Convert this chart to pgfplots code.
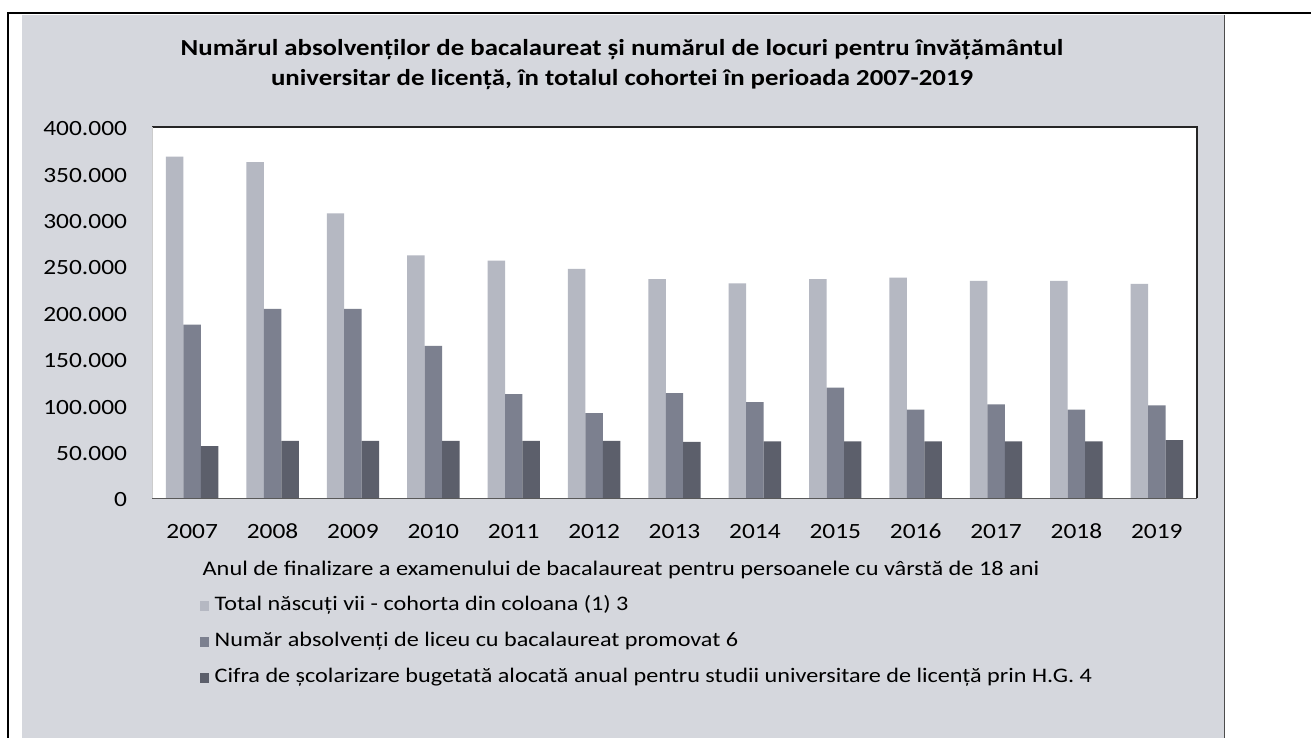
\documentclass[border=0pt]{standalone}
\usepackage{pgfplots}
\pgfplotsset{compat=1.18}
\usepackage{fontspec}
\setmainfont[FakeStretch=1.17]{Carlito}
\definecolor{panel}{HTML}{D5D7DD}
\definecolor{cLight}{HTML}{B5B8C2}
\definecolor{cMid}{HTML}{7C808F}
\definecolor{cDark}{HTML}{5C5F6B}

\begin{document}
\begin{tikzpicture}
\path[use as bounding box] (0,0) rectangle (983.25pt,-553.5pt);
% page background, frame, grey chart area (pixel units)
\begin{scope}[x=0.75pt,y=-0.75pt]
\fill[white] (0,0) rectangle (1311,738);
\fill[panel] (22,15) rectangle (1224,738);
\draw[line width=1.4pt] (8,738) -- (8,13) -- (1311,13);
\draw[gray!60!black, line width=0.5pt] (1224,15) -- (1224,738);
\fill[white] (152,127) rectangle (1197,498);
\node[font=\bfseries\fontsize{17.2}{22.5}\selectfont, align=center] at (622,65)
  {Numărul absolvenților de bacalaureat și numărul de locuri pentru învățământul\\
   universitar de licență, în totalul cohortei în perioada 2007-2019};
\node[font=\fontsize{15.6}{18}\selectfont] at (621,570)
  {Anul de finalizare a examenului de bacalaureat pentru persoanele cu vârstă de 18 ani};
\end{scope}

\begin{axis}[
  at={(114pt,-373.5pt)}, anchor=south west,
  scale only axis, width=783.75pt, height=278.25pt,
  ybar=0pt, bar width=13.1pt,
  xmin=-0.5, xmax=12.5, ymin=0, ymax=400000,
  xtick=data,
  xticklabels={2007,2008,2009,2010,2011,2012,2013,2014,2015,2016,2017,2018,2019},
  ytick={0,50000,...,400000},
  scaled y ticks=false,
  /pgf/number format/fixed,
  /pgf/number format/1000 sep={.},
  /pgf/number format/assume math mode=true,
  ticklabel style={font=\fontsize{16.3}{18}\selectfont, inner sep=0pt,
    text height=10.3pt, text depth=0pt},
  xticklabel style={anchor=north, yshift=-19.5pt},
  yticklabel style={anchor=east, xshift=-18.5pt, yshift=-1.5pt},
  major tick length=0pt,
  axis line style={draw=none},
  legend style={at={(axis description cs:0.046,-0.267)}, anchor=north west,
    draw=none, fill=none, inner sep=0pt, row sep=14pt, column sep=4pt,
    font=\fontsize{15.5}{17}\selectfont,
    nodes={inner sep=0pt, text height=10pt, text depth=3pt}},
  legend cell align=left,
  legend image code/.code={\fill[#1] (0pt,-3.4pt) rectangle (6.8pt,3.4pt);},
]
\addplot[fill=cLight, draw=none] coordinates {
(0,368000) (1,362000) (2,307000) (3,261600) (4,256000) (5,247000) (6,236000)
(7,231500) (8,236000) (9,237600) (10,234000) (11,234000) (12,231000)};
\addlegendentry{Total născuți vii - cohorta din coloana (1) 3}
\addplot[fill=cMid, draw=none] coordinates {
(0,187000) (1,204000) (2,204000) (3,164000) (4,112000) (5,91400) (6,113000)
(7,103500) (8,119000) (9,95400) (10,101000) (11,95400) (12,100000)};
\addlegendentry{Număr absolvenți de liceu cu bacalaureat promovat 6}
\addplot[fill=cDark, draw=none] coordinates {
(0,56000) (1,61600) (2,61600) (3,61600) (4,61600) (5,61600) (6,60500)
(7,61000) (8,61000) (9,61000) (10,61000) (11,61000) (12,62400)};
\addlegendentry{Cifra de școlarizare bugetată alocată anual pentru studii universitare de licență prin H.G. 4}
\end{axis}

\begin{scope}[x=0.75pt,y=-0.75pt]
\draw[black!85, line width=1pt] (152,127) -- (1197,127) -- (1197,498);
\draw[gray!70!black, line width=0.6pt] (152,498) -- (1197,498);
\draw[gray!40, line width=0.5pt] (152,127) -- (152,498);
\end{scope}
\end{tikzpicture}
\end{document}
